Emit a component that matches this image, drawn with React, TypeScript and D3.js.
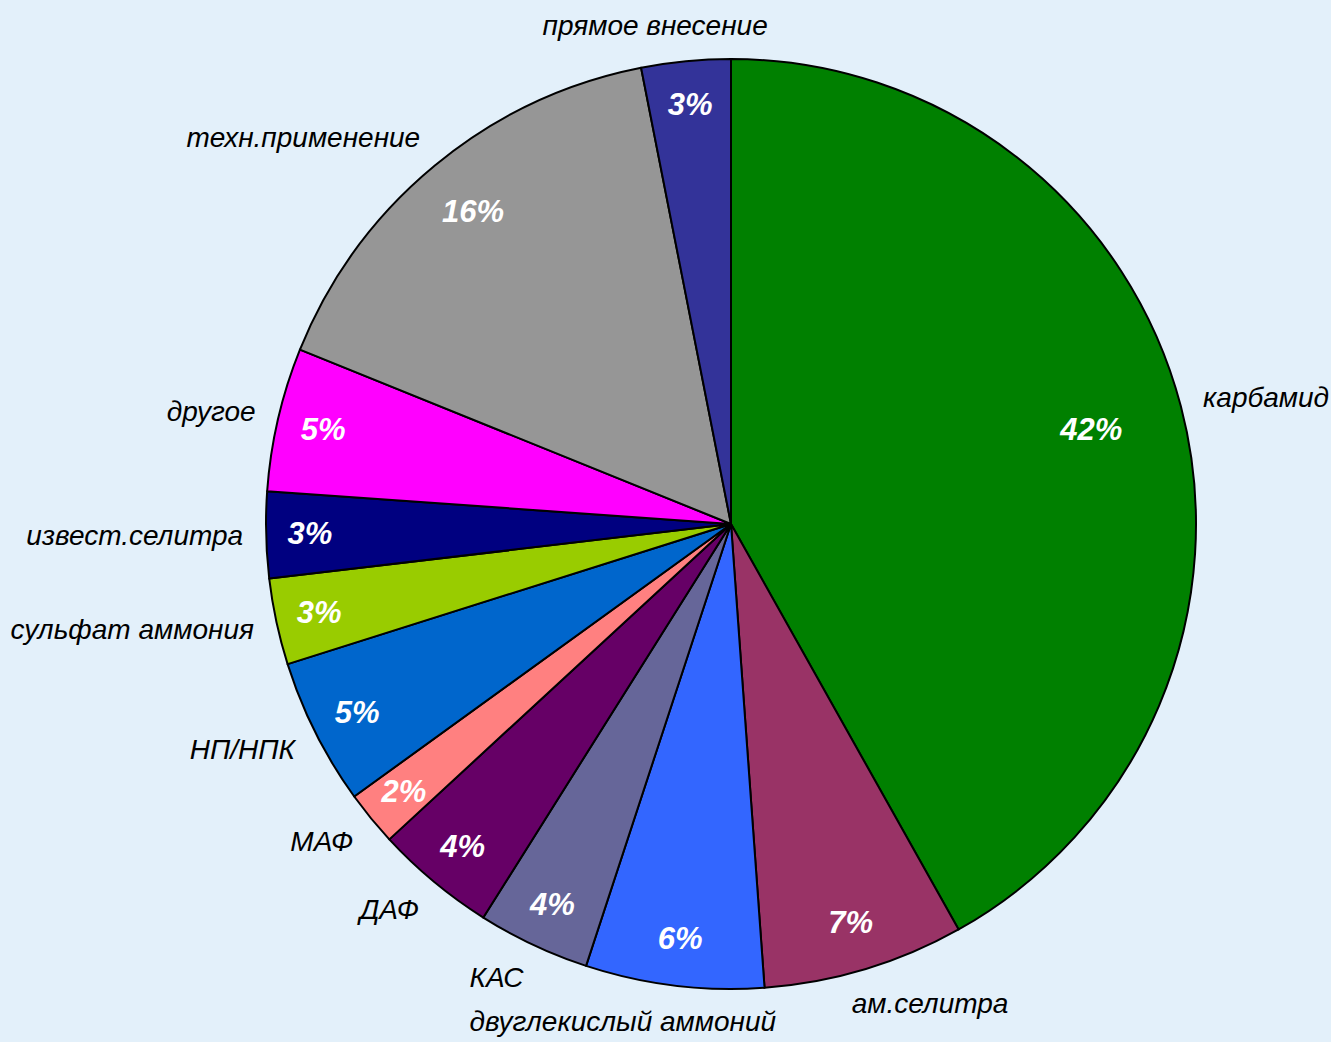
import React, { useEffect, useRef } from 'react';
import * as d3 from 'd3';

const categories = [
  'карбамид',
  'ам.селитра',
  'двуглекислый аммоний',
  'КАС',
  'ДАФ',
  'МАФ',
  'НП/НПК',
  'сульфат аммония',
  'извест.селитра',
  'другое',
  'техн.применение',
  'прямое внесение',
];
const shares = [41.9, 7.0, 6.2, 3.9, 4.2, 1.9, 5.1, 3.0, 3.0, 5.0, 15.8, 3.1];
const colors = [
  '#008000', '#993366', '#3366FF', '#666699', '#660066', '#FF8080',
  '#0066CC', '#99CC00', '#000080', '#FF00FF', '#969696', '#333399',
];

const App = () => {
  const svgRef = useRef<SVGSVGElement>(null);

  useEffect(() => {
    document.body.style.margin = '0';
    const svg = d3.select(svgRef.current);
    svg.selectAll('*').remove();

    const width = 1331;
    const height = 1042;
    const cx = 731;
    const cy = 524;
    const radius = 465;
    const total = d3.sum(shares);

    svg.append('rect')
      .attr('width', width)
      .attr('height', height)
      .attr('fill', '#E3F0FA');

    const pie = d3.pie<number>().value(d => d).sort(null);
    const arcs = pie(shares);
    const arc = d3.arc<d3.PieArcDatum<number>>().innerRadius(0).outerRadius(radius);

    const g = svg.append('g').attr('transform', `translate(${cx},${cy})`);

    // slices
    g.selectAll('path')
      .data(arcs)
      .enter().append('path')
      .attr('d', arc)
      .attr('fill', (d, i) => colors[i])
      .attr('stroke', '#000')
      .attr('stroke-width', 2)
      .attr('stroke-linejoin', 'round');

    const mid = (d: d3.PieArcDatum<number>) => (d.startAngle + d.endAngle) / 2;

    // percent labels inside, wide slices pull the label inward a bit
    const inR = (d: d3.PieArcDatum<number>) => 425 - 20 * (d.endAngle - d.startAngle);
    g.selectAll('text.pct')
      .data(arcs)
      .enter().append('text')
      .attr('class', 'pct')
      .attr('x', d => inR(d) * Math.sin(mid(d)))
      .attr('y', d => -inR(d) * Math.cos(mid(d)))
      .attr('text-anchor', 'middle')
      .attr('dominant-baseline', 'central')
      .attr('font-family', 'Arial, "Liberation Sans", sans-serif')
      .attr('font-size', 31)
      .attr('font-weight', 'bold')
      .attr('font-style', 'italic')
      .attr('fill', '#fff')
      .text(d => `${Math.round((d.value / total) * 100)}%`);

    // category labels outside
    const outR = 488;
    g.selectAll('text.cat')
      .data(arcs)
      .enter().append('text')
      .attr('class', 'cat')
      .attr('text-anchor', 'start')
      .attr('dominant-baseline', 'central')
      .attr('font-family', 'Arial, "Liberation Sans", sans-serif')
      .attr('font-size', 28)
      .attr('font-style', 'italic')
      .attr('fill', '#000')
      .text((d, i) => categories[i])
      .each(function (d) {
        const a = mid(d);
        const w = (this as SVGTextElement).getComputedTextLength();
        const frac = Math.max(0, Math.min(1, 0.5 - Math.sin(a) * 1.3));
        d3.select(this)
          .attr('x', outR * Math.sin(a) - w * frac)
          .attr('y', -outR * Math.cos(a) - Math.cos(a) * 13);
      });
  }, []);

  return (
    <svg ref={svgRef} width={1331} height={1042} style={{ display: 'block' }}></svg>
  );
};

export default App;
